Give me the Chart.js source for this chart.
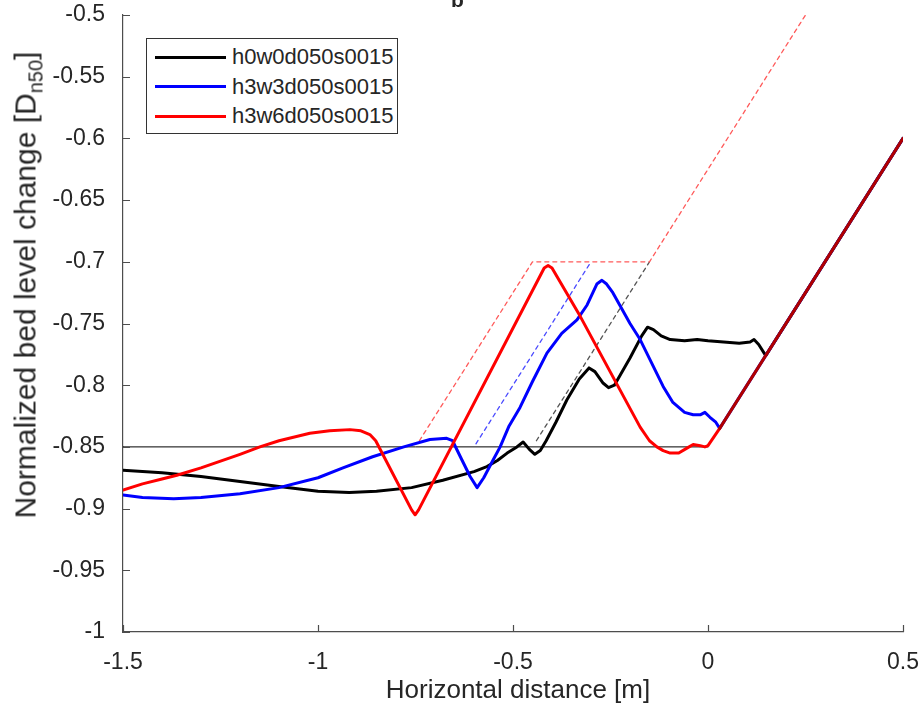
<!DOCTYPE html>
<html>
<head>
<meta charset="utf-8">
<script src="https://cdn.jsdelivr.net/npm/chart.js@4.4.1/dist/chart.umd.min.js"></script>
<style>
body{margin:0;background:#fff;}
#wrap{position:relative;width:923px;height:710px;overflow:hidden;font-family:"Liberation Sans",Arial,sans-serif;color:#262626;}
#ttl{position:absolute;left:451px;top:-11px;font-weight:bold;font-size:21px;line-height:21px;}
#ylab{position:absolute;left:28px;top:285px;transform:translate(-50%,-50%) rotate(-90deg);white-space:nowrap;font-size:30px;}
#ylab sub{font-size:20px;}
#xlab{position:absolute;left:518px;top:689px;transform:translate(-50%,-50%);white-space:nowrap;font-size:26px;}
#legend{position:absolute;left:146px;top:38px;width:250px;height:94px;border:1px solid #333;background:#fff;}
.row{position:absolute;left:8px;height:24px;display:flex;align-items:center;font-size:22px;}
.sw{width:71px;height:3px;margin-right:6px;}
</style>
</head>
<body>
<div id="wrap">
<canvas id="chart" width="923" height="710"></canvas>
<div id="ttl">b</div>
<div id="ylab">Normalized bed level change [D<sub>n50</sub>]</div>
<div id="xlab">Horizontal distance [m]</div>
<div id="legend"></div>
</div>
<script>
// series names and colours
const names = ["h0w0d050s0015", "h3w3d050s0015", "h3w6d050s0015"];
const colors = ["#000000", "#0000ff", "#ff0000"];

// h0w0d050s0015
const xBlack = [-1.5,-1.4,-1.3,-1.2,-1.1,-1.0,-0.92,-0.85,-0.76,-0.68,-0.6,-0.567,-0.54,-0.515,-0.49,-0.474,-0.458,-0.444,-0.43,-0.415,-0.39,-0.362,-0.33,-0.305,-0.29,-0.27,-0.255,-0.24,-0.2,-0.17,-0.155,-0.14,-0.12,-0.097,-0.06,-0.028,0.0,0.04,0.08,0.108,0.118,0.13,0.148,0.5];
const yBlack = [-0.869,-0.871,-0.874,-0.878,-0.882,-0.886,-0.887,-0.886,-0.883,-0.877,-0.870,-0.866,-0.861,-0.855,-0.850,-0.846,-0.852,-0.856,-0.853,-0.845,-0.830,-0.812,-0.795,-0.786,-0.789,-0.798,-0.802,-0.800,-0.778,-0.760,-0.753,-0.755,-0.760,-0.763,-0.764,-0.763,-0.764,-0.765,-0.766,-0.765,-0.763,-0.767,-0.776,-0.6];

// h3w3d050s0015
const xBlue = [-1.5,-1.45,-1.37,-1.3,-1.2,-1.1,-1.0,-0.936,-0.86,-0.78,-0.713,-0.67,-0.655,-0.635,-0.61,-0.592,-0.575,-0.55,-0.533,-0.51,-0.482,-0.45,-0.413,-0.375,-0.336,-0.31,-0.285,-0.272,-0.26,-0.244,-0.2,-0.174,-0.115,-0.09,-0.06,-0.038,-0.02,-0.008,0.005,0.02,0.03,0.5];
const yBlue = [-0.889,-0.891,-0.892,-0.891,-0.888,-0.883,-0.875,-0.867,-0.858,-0.850,-0.844,-0.843,-0.845,-0.858,-0.874,-0.883,-0.875,-0.860,-0.850,-0.833,-0.818,-0.797,-0.774,-0.758,-0.747,-0.735,-0.718,-0.715,-0.718,-0.725,-0.750,-0.763,-0.801,-0.814,-0.822,-0.824,-0.824,-0.822,-0.826,-0.830,-0.835,-0.6];

// h3w6d050s0015
const xRed = [-1.5,-1.45,-1.4,-1.362,-1.3,-1.2,-1.149,-1.1,-1.021,-0.97,-0.918,-0.89,-0.867,-0.852,-0.76,-0.751,-0.742,-0.42,-0.41,-0.40,-0.328,-0.174,-0.15,-0.131,-0.115,-0.097,-0.075,-0.054,-0.038,-0.02,-0.008,0.0,0.03,0.5];
const yRed = [-0.885,-0.880,-0.876,-0.873,-0.867,-0.856,-0.850,-0.845,-0.839,-0.837,-0.836,-0.837,-0.840,-0.845,-0.901,-0.905,-0.901,-0.705,-0.703,-0.705,-0.744,-0.834,-0.845,-0.850,-0.853,-0.855,-0.855,-0.851,-0.848,-0.849,-0.850,-0.849,-0.835,-0.6];

// dashed guide lines and the -0.85 reference level
const xRedDash = [-0.74,-0.45,-0.15,0.25];
const yRedDash = [-0.845,-0.7,-0.7,-0.5];
const xBlueDash = [-0.595,-0.3];
const yBlueDash = [-0.8475,-0.7];
const xBlackDash = [-0.44,-0.15];
const yBlackDash = [-0.845,-0.7];
const xLevel = [-1.5,0];
const yLevel = [-0.85,-0.85];

const xTicks = [-1.5,-1,-0.5,0,0.5];
const yTicks = [-1,-0.95,-0.9,-0.85,-0.8,-0.75,-0.7,-0.65,-0.6,-0.55,-0.5];

function pts(xs, ys){
    let out = [];
    for(let i=0;i<xs.length;i++){
        out.push({x: xs[i], y: ys[i]});
    }
    return out;
}

function fmt(v){
    return String(Math.round(v*100)/100);
}

// legend
const leg = document.getElementById("legend");
for(let i=0;i<names.length;i++){
    let r = document.createElement("div");
    r.className = "row";
    r.style.top = (6 + i*29.5) + "px";
    r.innerHTML = '<div class="sw" style="background:' + colors[i] + '"></div>' + names[i];
    leg.appendChild(r);
}

// inward tick marks like matlab
const tickPlugin = {
    id: "inTicks",
    afterDraw(chart){
        const c = chart.ctx;
        const a = chart.chartArea;
        c.save();
        c.strokeStyle = "#4d4d4d";
        c.lineWidth = 1.2;
        c.beginPath();
        xTicks.forEach(v => {
            let px = Math.round(chart.scales.x.getPixelForValue(v)) + 0.5;
            c.moveTo(px, a.bottom);
            c.lineTo(px, a.bottom - 7);
        });
        yTicks.forEach(v => {
            let py = Math.round(chart.scales.y.getPixelForValue(v)) + 0.5;
            c.moveTo(a.left, py);
            c.lineTo(a.left + 7, py);
        });
        c.stroke();
        c.restore();
    }
};

const tickFont = {family: "Liberation Sans", size: 23};

new Chart(document.getElementById("chart"), {
    type: "line",
    data: {
        datasets: [
            {label: names[2], data: pts(xRed, yRed), borderColor: colors[2], borderWidth: 3, order: 0,
             segment: {borderColor: ctx => ctx.p0.parsed.x >= 0.029 ? "#b00000" : undefined}},
            {label: names[1], data: pts(xBlue, yBlue), borderColor: colors[1], borderWidth: 3, order: 1},
            {label: names[0], data: pts(xBlack, yBlack), borderColor: colors[0], borderWidth: 3, order: 2},
            {label: "red guide", data: pts(xRedDash, yRedDash), borderColor: "#ff5a5a", borderWidth: 1.3, borderDash: [4,4], order: 3},
            {label: "blue guide", data: pts(xBlueDash, yBlueDash), borderColor: "#4a4aff", borderWidth: 1.3, borderDash: [4,4], order: 3},
            {label: "black guide", data: pts(xBlackDash, yBlackDash), borderColor: "#555555", borderWidth: 1.3, borderDash: [4,4], order: 3},
            {label: "level", data: pts(xLevel, yLevel), borderColor: "#000000", borderWidth: 1, order: 4}
        ]
    },
    options: {
        responsive: false,
        animation: false,
        devicePixelRatio: 1,
        layout: {padding: {top: 15, right: 20, left: 0, bottom: 0}},
        elements: {point: {radius: 0}, line: {tension: 0, borderCapStyle: "round", borderJoinStyle: "round"}},
        plugins: {legend: {display: false}, tooltip: {enabled: false}},
        scales: {
            x: {
                type: "linear", min: -1.5, max: 0.5,
                afterBuildTicks: s => { s.ticks = xTicks.map(v => ({value: v})); },
                afterFit: s => { s.height = 78; s.paddingLeft = 0; s.paddingRight = 0; },
                grid: {display: false},
                border: {display: true, color: "#4d4d4d", width: 1.2},
                ticks: {font: tickFont, color: "#262626", padding: 9, maxRotation: 0, callback: v => fmt(v)}
            },
            y: {
                type: "linear", min: -1, max: -0.5,
                afterBuildTicks: s => { s.ticks = yTicks.map(v => ({value: v})); },
                afterFit: s => { s.width = 123; s.paddingTop = 0; s.paddingBottom = 0; },
                grid: {display: false},
                border: {display: true, color: "#4d4d4d", width: 1.2},
                ticks: {font: tickFont, color: "#262626", padding: 10, callback: v => fmt(v)}
            }
        }
    },
    plugins: [tickPlugin]
});
</script>
</body>
</html>
